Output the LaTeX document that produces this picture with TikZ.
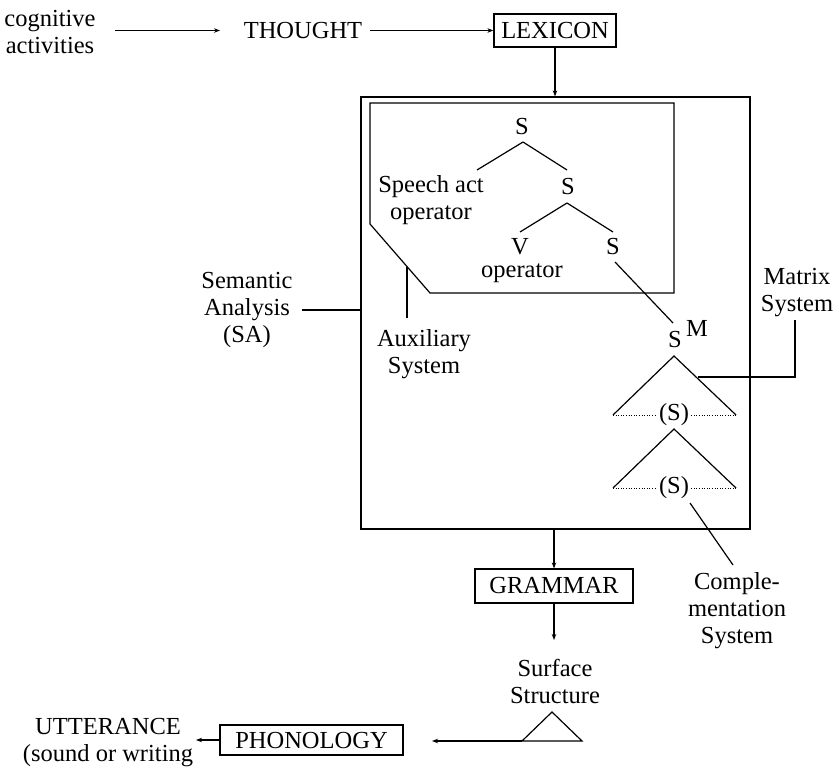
\documentclass[tikz,border=0pt]{standalone}
\usepackage{fontspec}
\setmainfont{Liberation Serif}
\usetikzlibrary{arrows.meta}
\begin{document}
\begin{tikzpicture}[x=1pt,y=-1pt,
  every node/.style={font=\fontsize{24.5}{27}\selectfont, inner sep=2pt},
  lbl/.style={align=center},
  boxed/.style={draw, line width=1.2pt, inner sep=0pt},
  ln/.style={line width=1.2pt},
  arr/.style={line width=1.2pt, -{Stealth[length=6pt,width=4.5pt]}},
  dots/.style={line width=0.9pt, dash pattern=on 1pt off 1.6pt}]
\useasboundingbox (0,0) rectangle (834,767);

% top row
\node[lbl] (cog) at (50,32) {cognitive\\activities};
\node (thought) at (303,31) {THOUGHT};
\node[boxed, minimum width=122pt, minimum height=33pt] (lex) at (555,30.5) {LEXICON};
\coordinate (cogR) at (115,30.5);
\coordinate (thL) at (220,30.5);
\draw[arr] (cogR) -- (thL);
\coordinate (thR) at (370,30.5);
\draw[arr] (thR) -- (lex.west);

% semantic analysis box
\node[draw, line width=1.2pt, minimum width=389pt, minimum height=432pt, inner sep=0pt] (sabox) at (555.5,313) {};
\draw[arr] (lex.south) -- (lex.south |- sabox.north);

% auxiliary system outline
\coordinate (p1) at (370,103);
\coordinate (p2) at (674,103);
\coordinate (p3) at (674,293);
\coordinate (p4) at (430,293);
\coordinate (p5) at (370,224);
\draw[ln] (p1) -- (p2) -- (p3) -- (p4) -- (p5) -- cycle;

% tree
\node (s0) at (522,127) {S};
\node[lbl] (sact) at (431,200) {Speech act\\operator};
\node (s1) at (568,187) {S};
\node (v) at (520,247) {V};
\node (vop) at (522,273) {operator};
\node (s2) at (613,247) {S};
\node (sm) at (675,340) {S};
\node (m) at (697,328) {M};
\draw[ln] (523,142) -- (477,170);
\draw[ln] (523,142) -- (567,170);
\draw[ln] (567,203) -- (520,232);
\draw[ln] (567,203) -- (613,232);
\draw[ln] (615,262) -- (673,323);

% matrix triangles
\node (c1) at (674,415) {(S)};
\node (c2) at (674,488) {(S)};
\draw[ln] (613,415) -- (674,356) -- (736,415);
\draw[dots] (613,415) -- (c1.west);
\draw[dots] (c1.east) -- (736,415);
\draw[ln] (613,488) -- (674,429) -- (736,488);
\draw[dots] (613,488) -- (c2.west);
\draw[dots] (c2.east) -- (736,488);

% side labels
\node[lbl] (sa) at (247,310) {Semantic\\Analysis\\(SA)};
\draw[ln] (302,310) -- (sa.east -| sabox.west);
\node[lbl] (aux) at (424,354) {Auxiliary\\System};
\draw[ln] (407,267) -- (407,318);
\node[lbl] (mat) at (797,293) {Matrix\\System};
\draw[ln] (795,320) -- (795,377) -- (698,377);
\node[lbl] (comp) at (737,611) {Comple-\\mentation\\System};
\draw[ln] (690,503) -- (733,565);

% grammar and below
\node[boxed, minimum width=158pt, minimum height=34pt] (gram) at (554,586) {GRAMMAR};
\draw[arr] (gram.north |- sabox.south) -- (gram.north);
\coordinate (ssTop) at (554,640);
\draw[arr] (gram.south) -- (ssTop);
\node[lbl] (ss) at (555,681) {Surface\\Structure};
\coordinate (t1) at (522,741);
\coordinate (t2) at (552,712);
\coordinate (t3) at (582,741);
\draw[ln] (t1) -- (t2) -- (t3) -- cycle;

\node[boxed, minimum width=183pt, minimum height=30pt] (phon) at (311.5,740) {PHONOLOGY};
\coordinate (phR) at (432,741);
\draw[arr] (t1) -- (phR);
\node[lbl] (utt) at (108,743) {UTTERANCE\\(sound or writing};
\coordinate (uttR) at (196,740);
\draw[arr] (phon.west) -- (uttR);
\end{tikzpicture}
\end{document}
